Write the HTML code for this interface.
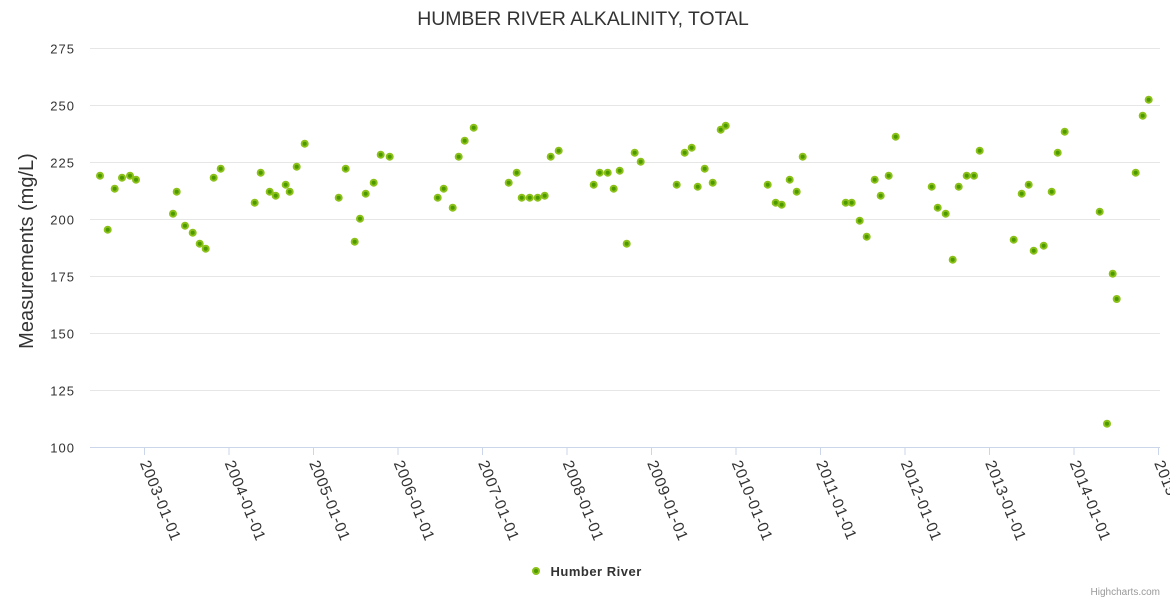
<!DOCTYPE html>
<html>
<head>
<meta charset="utf-8">
<style>
  html,body{margin:0;padding:0;background:#fff;}
  svg{display:block;}
  text{font-family:"Liberation Sans", sans-serif;}
</style>
</head>
<body>
<svg width="1170" height="600" viewBox="0 0 1170 600" xmlns="http://www.w3.org/2000/svg">
  <rect width="1170" height="600" fill="#fff"/>
  <text x="583" y="25" text-anchor="middle" font-size="19.4" fill="#333">HUMBER RIVER ALKALINITY, TOTAL</text>

  <g stroke="#e6e6e6" stroke-width="1">
    <line x1="90" y1="48.5" x2="1160" y2="48.5"/>
    <line x1="90" y1="105.5" x2="1160" y2="105.5"/>
    <line x1="90" y1="162.5" x2="1160" y2="162.5"/>
    <line x1="90" y1="219.5" x2="1160" y2="219.5"/>
    <line x1="90" y1="276.5" x2="1160" y2="276.5"/>
    <line x1="90" y1="333.5" x2="1160" y2="333.5"/>
    <line x1="90" y1="390.5" x2="1160" y2="390.5"/>
  </g>
  <g stroke="#ccd6eb" stroke-width="1">
    <line x1="90" y1="447.5" x2="1160" y2="447.5"/>
    <line x1="144.5" y1="447" x2="144.5" y2="455"/>
    <line x1="229" y1="447" x2="229" y2="455"/>
    <line x1="313.5" y1="447" x2="313.5" y2="455"/>
    <line x1="398" y1="447" x2="398" y2="455"/>
    <line x1="482.5" y1="447" x2="482.5" y2="455"/>
    <line x1="567" y1="447" x2="567" y2="455"/>
    <line x1="651.5" y1="447" x2="651.5" y2="455"/>
    <line x1="736" y1="447" x2="736" y2="455"/>
    <line x1="820.5" y1="447" x2="820.5" y2="455"/>
    <line x1="905" y1="447" x2="905" y2="455"/>
    <line x1="989.5" y1="447" x2="989.5" y2="455"/>
    <line x1="1074" y1="447" x2="1074" y2="455"/>
    <line x1="1158.5" y1="447" x2="1158.5" y2="455"/>
  </g>

  <g font-size="13" fill="#333" text-anchor="end" letter-spacing="1">
    <text x="75" y="53.3">275</text>
    <text x="75" y="110.3">250</text>
    <text x="75" y="167.3">225</text>
    <text x="75" y="224.3">200</text>
    <text x="75" y="281.3">175</text>
    <text x="75" y="338.3">150</text>
    <text x="75" y="395.3">125</text>
    <text x="75" y="452.3">100</text>
  </g>

  <text transform="translate(33,251) rotate(-90)" text-anchor="middle" font-size="20" fill="#333">Measurements (mg/L)</text>

  <g font-size="15.5" fill="#333" letter-spacing="0.6">
    <text transform="translate(139.8,463) rotate(68)">2003-01-01</text>
    <text transform="translate(224.5,463) rotate(68)">2004-01-01</text>
    <text transform="translate(309,463) rotate(68)">2005-01-01</text>
    <text transform="translate(393.5,463) rotate(68)">2006-01-01</text>
    <text transform="translate(478,463) rotate(68)">2007-01-01</text>
    <text transform="translate(562.5,463) rotate(68)">2008-01-01</text>
    <text transform="translate(647,463) rotate(68)">2009-01-01</text>
    <text transform="translate(731.5,463) rotate(68)">2010-01-01</text>
    <text transform="translate(816,463) rotate(68)">2011-01-01</text>
    <text transform="translate(900.5,463) rotate(68)">2012-01-01</text>
    <text transform="translate(985,463) rotate(68)">2013-01-01</text>
    <text transform="translate(1069.5,463) rotate(68)">2014-01-01</text>
    <text transform="translate(1154,463) rotate(68)">2015-01-01</text>
  </g>

  <g fill="#4c9900" stroke="#8cc11a" stroke-width="2">
    <circle cx="100" cy="175.7" r="3"/>
    <circle cx="107.7" cy="229.7" r="3"/>
    <circle cx="114.7" cy="188.7" r="3"/>
    <circle cx="122" cy="177.7" r="3"/>
    <circle cx="130" cy="175.7" r="3"/>
    <circle cx="136" cy="179.7" r="3"/>
    <circle cx="173" cy="213.7" r="3"/>
    <circle cx="176.7" cy="191.7" r="3"/>
    <circle cx="185" cy="225.7" r="3"/>
    <circle cx="192.7" cy="232.7" r="3"/>
    <circle cx="199.7" cy="243.7" r="3"/>
    <circle cx="205.7" cy="248.7" r="3"/>
    <circle cx="213.7" cy="177.7" r="3"/>
    <circle cx="220.7" cy="168.7" r="3"/>
    <circle cx="254.7" cy="202.7" r="3"/>
    <circle cx="260.7" cy="172.7" r="3"/>
    <circle cx="269.7" cy="191.7" r="3"/>
    <circle cx="275.7" cy="195.7" r="3"/>
    <circle cx="285.7" cy="184.7" r="3"/>
    <circle cx="289.7" cy="191.7" r="3"/>
    <circle cx="296.7" cy="166.7" r="3"/>
    <circle cx="304.7" cy="143.7" r="3"/>
    <circle cx="338.7" cy="197.7" r="3"/>
    <circle cx="345.7" cy="168.7" r="3"/>
    <circle cx="354.7" cy="241.7" r="3"/>
    <circle cx="360" cy="218.7" r="3"/>
    <circle cx="365.7" cy="193.7" r="3"/>
    <circle cx="373.7" cy="182.7" r="3"/>
    <circle cx="380.7" cy="154.7" r="3"/>
    <circle cx="389.7" cy="156.7" r="3"/>
    <circle cx="437.7" cy="197.7" r="3"/>
    <circle cx="443.7" cy="188.7" r="3"/>
    <circle cx="452.7" cy="207.7" r="3"/>
    <circle cx="458.7" cy="156.7" r="3"/>
    <circle cx="464.7" cy="140.7" r="3"/>
    <circle cx="473.7" cy="127.7" r="3"/>
    <circle cx="508.7" cy="182.7" r="3"/>
    <circle cx="516.7" cy="172.7" r="3"/>
    <circle cx="521.7" cy="197.7" r="3"/>
    <circle cx="529.7" cy="197.7" r="3"/>
    <circle cx="537.7" cy="197.7" r="3"/>
    <circle cx="544.7" cy="195.7" r="3"/>
    <circle cx="550.7" cy="156.7" r="3"/>
    <circle cx="558.7" cy="150.7" r="3"/>
    <circle cx="593.7" cy="184.7" r="3"/>
    <circle cx="599.7" cy="172.7" r="3"/>
    <circle cx="607.7" cy="172.7" r="3"/>
    <circle cx="613.7" cy="188.7" r="3"/>
    <circle cx="619.7" cy="170.7" r="3"/>
    <circle cx="626.7" cy="243.7" r="3"/>
    <circle cx="634.7" cy="152.7" r="3"/>
    <circle cx="640.7" cy="161.7" r="3"/>
    <circle cx="676.7" cy="184.7" r="3"/>
    <circle cx="684.7" cy="152.7" r="3"/>
    <circle cx="691.7" cy="147.7" r="3"/>
    <circle cx="697.7" cy="186.7" r="3"/>
    <circle cx="704.7" cy="168.7" r="3"/>
    <circle cx="712.7" cy="182.7" r="3"/>
    <circle cx="720.7" cy="129.7" r="3"/>
    <circle cx="725.7" cy="125.7" r="3"/>
    <circle cx="767.7" cy="184.7" r="3"/>
    <circle cx="775.7" cy="202.7" r="3"/>
    <circle cx="781.7" cy="204.7" r="3"/>
    <circle cx="789.7" cy="179.7" r="3"/>
    <circle cx="796.7" cy="191.7" r="3"/>
    <circle cx="802.7" cy="156.7" r="3"/>
    <circle cx="845.7" cy="202.7" r="3"/>
    <circle cx="851.7" cy="202.7" r="3"/>
    <circle cx="859.7" cy="220.7" r="3"/>
    <circle cx="866.7" cy="236.7" r="3"/>
    <circle cx="874.7" cy="179.7" r="3"/>
    <circle cx="880.7" cy="195.7" r="3"/>
    <circle cx="888.7" cy="175.7" r="3"/>
    <circle cx="895.7" cy="136.7" r="3"/>
    <circle cx="931.7" cy="186.7" r="3"/>
    <circle cx="937.7" cy="207.7" r="3"/>
    <circle cx="945.7" cy="213.7" r="3"/>
    <circle cx="952.7" cy="259.7" r="3"/>
    <circle cx="958.7" cy="186.7" r="3"/>
    <circle cx="966.7" cy="175.7" r="3"/>
    <circle cx="974" cy="175.7" r="3"/>
    <circle cx="979.7" cy="150.7" r="3"/>
    <circle cx="1013.7" cy="239.7" r="3"/>
    <circle cx="1021.7" cy="193.7" r="3"/>
    <circle cx="1028.7" cy="184.7" r="3"/>
    <circle cx="1033.7" cy="250.7" r="3"/>
    <circle cx="1043.7" cy="245.7" r="3"/>
    <circle cx="1051.7" cy="191.7" r="3"/>
    <circle cx="1057.7" cy="152.7" r="3"/>
    <circle cx="1064.7" cy="131.7" r="3"/>
    <circle cx="1099.7" cy="211.7" r="3"/>
    <circle cx="1107" cy="423.7" r="3"/>
    <circle cx="1112.7" cy="273.7" r="3"/>
    <circle cx="1116.7" cy="299" r="3"/>
    <circle cx="1135.7" cy="172.7" r="3"/>
    <circle cx="1142.7" cy="115.7" r="3"/>
    <circle cx="1148.7" cy="99.7" r="3"/>
  </g>

  <circle cx="536" cy="571" r="3" fill="#4c9900" stroke="#8cc11a" stroke-width="2"/>
  <text x="550.5" y="575.8" font-size="13" font-weight="bold" fill="#333" letter-spacing="0.5">Humber River</text>

  <text x="1160" y="595" text-anchor="end" font-size="10" fill="#999">Highcharts.com</text>
</svg>
</body>
</html>
